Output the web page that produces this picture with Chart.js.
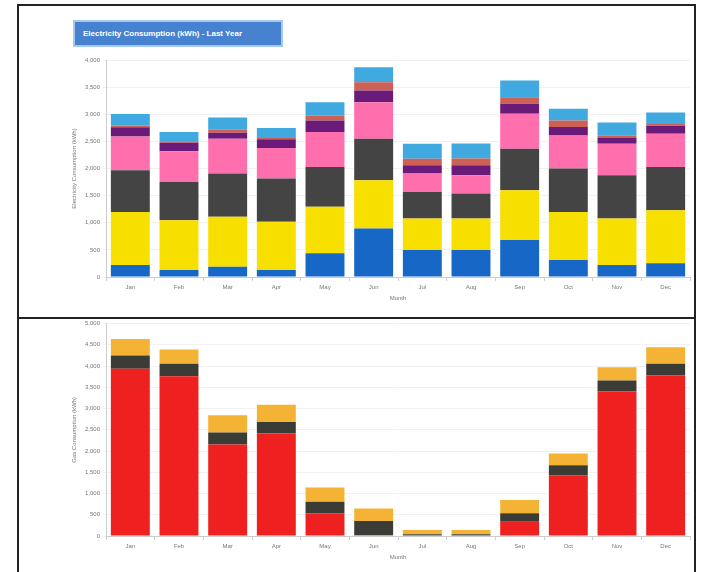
<!DOCTYPE html>
<html>
<head>
<meta charset="utf-8">
<script src="https://cdn.jsdelivr.net/npm/chart.js@4.4.1/dist/chart.umd.min.js"></script>
<style>
  body { margin: 0; background: #fff; width: 707px; height: 572px; overflow: hidden; position: relative; font-family: "Liberation Sans", Arial, sans-serif; }
  canvas { position: absolute; left: 0; }
  .frame { position: absolute; left: 17px; width: 679px; border: 2px solid #222; box-sizing: border-box; pointer-events: none; }
  .title-box { position: absolute; left: 73px; top: 20px; width: 210px; height: 27px; box-sizing: border-box;
    background: #4682d0; border: 2px solid #a9c8ee; color: #fff; font-size: 8px; font-weight: bold;
    line-height: 23px; padding-left: 8px; white-space: nowrap; }
</style>
</head>
<body>
<canvas id="elecChart" width="707" height="318" style="top:0"></canvas>
<canvas id="gasChart" width="707" height="254" style="top:318px"></canvas>
<div class="frame" style="top:4px;height:315px"></div>
<div class="frame" style="top:317px;height:270px"></div>
<div class="title-box">Electricity Consumption (kWh) - Last Year</div>
<script>
const months = ['Jan', 'Feb', 'Mar', 'Apr', 'May', 'Jun', 'Jul', 'Aug', 'Sep', 'Oct', 'Nov', 'Dec'];

// electricity, bottom to top
const elecCooling     = [220, 129, 190, 129, 436, 895, 496, 496, 680, 312, 220, 252];
const elecBase        = [980, 919, 919, 888, 857, 888, 583, 583, 919, 888, 858, 980];
const elecAppliances  = [766, 704, 798, 798, 735, 766, 489, 460, 766, 798, 796, 796];
const elecLighting    = [625, 564, 643, 563, 643, 673, 338, 337, 643, 612, 583, 614];
const elecElectronics = [170, 160, 110, 160, 215, 215, 153, 184, 184, 153, 116, 147];
const elecPool        = [30, 25, 55, 25, 92, 153, 123, 123, 121, 123, 30, 30];
const elecOther       = [215, 170, 226, 185, 245, 276, 276, 276, 307, 215, 245, 215];
const elecTicks = { max: 4000, step: 500 };

// gas, bottom to top
const gasHeating = [3936, 3762, 2152, 2410, 533, 20, 0, 0, 336, 1432, 3403, 3779];
const gasWater   = [312, 291, 282, 272, 272, 336, 40, 40, 197, 235, 258, 274];
const gasCooking = [392, 336, 406, 408, 338, 291, 100, 100, 313, 274, 313, 390];
const gasTicks = { max: 5000, step: 500 };

Chart.defaults.font.family = '"Liberation Sans", Arial, sans-serif';
Chart.defaults.font.size = 6;
Chart.defaults.color = '#777';

function ds(label, data, color) {
    return { label, data, backgroundColor: color, borderWidth: 0 };
}

function makeChart(id, datasets, yTitle, ticks, padding) {
    const ctx = document.getElementById(id).getContext('2d');
    return new Chart(ctx, {
        type: 'bar',
        data: { labels: months, datasets },
        options: {
            responsive: false,
            animation: false,
            layout: { padding },
            datasets: { bar: { categoryPercentage: 0.8, barPercentage: 1 } },
            plugins: { legend: { display: false }, tooltip: { enabled: false } },
            scales: {
                x: {
                    stacked: true,
                    grid: { drawOnChartArea: false, tickLength: 4, color: '#ccc' },
                    border: { color: '#ccc' },
                    ticks: { padding: 3 },
                    title: { display: true, text: 'Month', color: '#777' },
                    afterFit: s => { s.height = 29; }
                },
                y: {
                    stacked: true,
                    min: 0,
                    max: ticks.max,
                    grid: { color: '#f1f1f1', tickLength: 4 },
                    border: { color: '#ccc' },
                    ticks: { stepSize: ticks.step, padding: 2 },
                    title: { display: true, text: yTitle, color: '#777' },
                    afterFit: s => { s.width = 39; }
                }
            }
        }
    });
}

makeChart('elecChart', [
    ds('Cooling', elecCooling, '#1767c6'),
    ds('Base Load', elecBase, '#f7df00'),
    ds('Appliances', elecAppliances, '#444444'),
    ds('Lighting', elecLighting, '#ff6fae'),
    ds('Electronics', elecElectronics, '#6a1b7a'),
    ds('Pool Pump', elecPool, '#cd6155'),
    ds('Other', elecOther, '#3fa9e0')
], 'Electricity Consumption (kWh)', elecTicks, { left: 67, right: 17, top: 60, bottom: 12 });

makeChart('gasChart', [
    ds('Space Heating', gasHeating, '#ee2020'),
    ds('Water Heating', gasWater, '#3c3c36'),
    ds('Cooking', gasCooking, '#f5b335')
], 'Gas Consumption (kWh)', gasTicks, { left: 67, right: 17, top: 4, bottom: 7 });
</script>
</body>
</html>
